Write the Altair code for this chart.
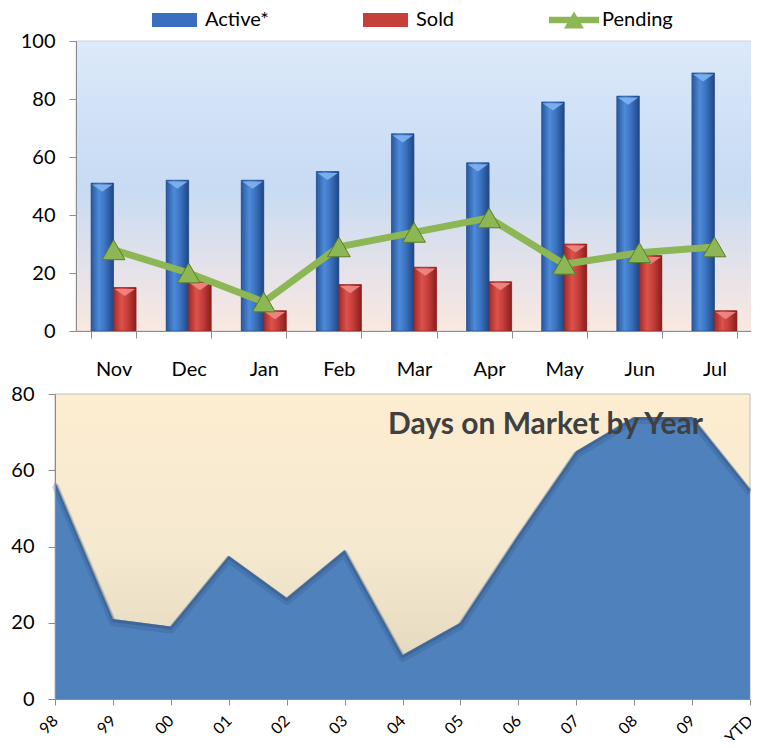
import altair as alt
import pandas as pd

# ---------------- data ----------------
months = ["Nov", "Dec", "Jan", "Feb", "Mar", "Apr", "May", "Jun", "Jul"]
active = [51, 52, 52, 55, 68, 58, 79, 81, 89]
sold = [15, 17, 7, 16, 22, 17, 30, 26, 7]
pending = [28, 20, 10, 29, 34, 39, 23, 27, 29]

years = ["98", "99", "00", "01", "02", "03", "04", "05", "06", "07", "08", "09", "YTD"]
days = [57, 21, 19, 37.5, 26.5, 39, 11.5, 20, 43, 65, 74, 74, 55]

series_names = ["Active*", "Sold", "Pending"]
series_colors = ["#3a6fc0", "#c63f3b", "#8db654"]

top_rows = []
for m, a, s, p in zip(months, active, sold, pending):
    top_rows.append({"month": m, "series": "Active*", "value": a})
    top_rows.append({"month": m, "series": "Sold", "value": s})
    top_rows.append({"month": m, "series": "Pending", "value": p})
top_df = pd.DataFrame(top_rows)
dom_df = pd.DataFrame({"year": years, "days": days})
one_df = pd.DataFrame({"k": [0]})

# ---------------- styling ----------------
W1, H1 = 676, 290
SHIFT = 21            # bottom plot starts this much further left than the top plot
W2, H2 = 695, 305
FONT = "Lato"
AXIS_GRAY = "#8c8c8c"


def grad(stops, horizontal=True):
    if horizontal:
        return alt.Gradient(gradient="linear", x1=0, x2=1, y1=0, y2=0,
                            stops=[alt.GradientStop(offset=o, color=c) for o, c in stops])
    return alt.Gradient(gradient="linear", x1=0, x2=0, y1=0, y2=1,
                        stops=[alt.GradientStop(offset=o, color=c) for o, c in stops])


x_top = alt.X("month:N",
              scale=alt.Scale(domain=months, paddingInner=0.4, paddingOuter=0.2),
              axis=alt.Axis(title=None, labelAngle=0, tickBand="extent", tickSize=7,
                            labelPadding=21, labelFontSize=20, labelFont=FONT,
                            labelColor="#000000", domainColor=AXIS_GRAY,
                            tickColor=AXIS_GRAY, zindex=1))
y_top = alt.Y("value:Q", scale=alt.Scale(domain=[0, 100], nice=False),
              axis=alt.Axis(title=None, values=[0, 20, 40, 60, 80, 100], grid=False,
                            tickSize=7, labelPadding=14, labelFontSize=20,
                            labelFont=FONT, labelColor="#000000",
                            domainColor=AXIS_GRAY, tickColor=AXIS_GRAY, minExtent=68,
                            zindex=1))
x_off = alt.XOffset("series:N",
                    scale=alt.Scale(domain=["Active*", "Sold"], paddingInner=0, paddingOuter=0))

BAR_PATH = "M-1,-0.7H3.5V0.7H-1Z"
PEND_PATH = "M-1,-0.33H4V0.33H-1Z M1.5,-0.85L2.5,0.85H0.5Z"

color_enc = alt.Color(
    "series:N",
    scale=alt.Scale(domain=series_names, range=series_colors),
    legend=alt.Legend(
        title=None, orient="none", legendX=76, legendY=-31,
        direction="horizontal", columns=3,
        symbolType={"expr": f"datum.value === 'Pending' ? '{PEND_PATH}' : '{BAR_PATH}'"},
        symbolSize=400, symbolStrokeWidth=0, symbolOpacity=1,
        labelFontSize=20, labelFont=FONT, labelColor="#000000",
        labelOffset=33, columnPadding=94,
    ),
)

bg_top = alt.Chart(one_df).mark_rect(
    fill=grad([(0, "#dce9fa"), (0.5, "#c7dbf3"), (0.82, "#e8e3e8"), (1, "#f9e9df")],
              horizontal=False),
    stroke="#d2d2d2", strokeWidth=1,
).encode(x=alt.value(0), x2=alt.value(W1), y=alt.value(0), y2=alt.value(H1))

bars_base = alt.Chart(top_df).transform_filter(
    "datum.series !== 'Pending'"
).mark_bar().encode(x=x_top, xOffset=x_off, y=y_top, color=color_enc)

active_grad = alt.Chart(top_df).transform_filter(
    "datum.series === 'Active*'"
).mark_bar(
    fill=grad([(0, "#2a569c"), (0.35, "#4d8bd8"), (0.6, "#3d75c4"), (1, "#1f4784")]),
    stroke="#24498a", strokeWidth=0.6,
).encode(x=x_top, xOffset=x_off, y=y_top)

sold_grad = alt.Chart(top_df).transform_filter(
    "datum.series === 'Sold'"
).mark_bar(
    fill=grad([(0, "#a32a27"), (0.35, "#dc524d"), (0.6, "#c8403b"), (1, "#8a1e1c")]),
    stroke="#8a2220", strokeWidth=0.6,
).encode(x=x_top, xOffset=x_off, y=y_top)

BEVEL = "M-1,-0.35L1,-0.35L0,0.35Z"
bevel_active = alt.Chart(top_df).transform_filter(
    "datum.series === 'Active*'"
).mark_point(shape=BEVEL, filled=True, size=420, fill="#7fb4f0", strokeWidth=0,
             opacity=0.9, yOffset=5).encode(x=x_top, xOffset=x_off, y=y_top)

bevel_sold = alt.Chart(top_df).transform_filter(
    "datum.series === 'Sold'"
).mark_point(shape=BEVEL, filled=True, size=420, fill="#f08a86", strokeWidth=0,
             opacity=0.9, yOffset=5).encode(x=x_top, xOffset=x_off, y=y_top)

pend_line = alt.Chart(top_df).transform_filter(
    "datum.series === 'Pending'"
).mark_line(color="#8db654", strokeWidth=7, strokeCap="round",
            strokeJoin="round").encode(x=x_top, y=y_top)

pend_pts = alt.Chart(top_df).transform_filter(
    "datum.series === 'Pending'"
).mark_point(shape="triangle-up", filled=True, size=520, stroke="#5c7d2b",
             strokeWidth=1, opacity=1).encode(x=x_top, y=y_top, color=color_enc)

top = alt.layer(bg_top, bars_base, active_grad, sold_grad, bevel_active, bevel_sold,
                pend_line, pend_pts).properties(width=W1, height=H1)

# ---------------- bottom chart ----------------
x_bot = alt.X("year:N",
              scale=alt.Scale(type="point", domain=years, padding=0,
                              range=[-SHIFT, W2 - SHIFT]),
              axis=alt.Axis(title=None, labelAngle=-45, labelAlign="right",
                            labelBaseline="middle", tickSize=6, labelPadding=13,
                            labelFontSize=16, labelFont=FONT, labelColor="#000000",
                            domainColor=AXIS_GRAY, tickColor=AXIS_GRAY, zindex=1))
y_bot = alt.Y("days:Q", scale=alt.Scale(domain=[0, 80], nice=False),
              axis=alt.Axis(title=None, values=[0, 20, 40, 60, 80], grid=False,
                            tickSize=7, labelPadding=14, labelFontSize=20,
                            labelFont=FONT, labelColor="#000000", offset=SHIFT,
                            domainColor=AXIS_GRAY, tickColor=AXIS_GRAY, zindex=1))

bg_bot = alt.Chart(one_df).mark_rect(
    fill=grad([(0, "#fdedd1"), (0.5, "#f5e9d0"), (0.85, "#e6dac1"), (1, "#e0d4bb")],
              horizontal=False),
    stroke="#bdbdbd", strokeWidth=1,
).encode(x=alt.value(-SHIFT), x2=alt.value(W2 - SHIFT), y=alt.value(0), y2=alt.value(H2))

area = alt.Chart(dom_df).mark_area(color="#4f81bd").encode(x=x_bot, y=y_bot)

shade_wide = alt.Chart(dom_df).mark_line(
    color="#2c4d78", strokeWidth=7, opacity=0.22, strokeJoin="round", yOffset=3.5
).encode(x=x_bot, y=y_bot)

shade_thin = alt.Chart(dom_df).mark_line(
    color="#2c4d78", strokeWidth=3, opacity=0.35, strokeJoin="round", yOffset=1.5
).encode(x=x_bot, y=y_bot)

title_txt = alt.Chart(one_df).mark_text(
    text="Days on Market by Year", align="left", baseline="alphabetic",
    fontSize=30, fontWeight="bold", font=FONT, color="#404040"
).encode(x=alt.value(333 - SHIFT), y=alt.value(40))

bottom = alt.layer(bg_bot, area, shade_wide, shade_thin, title_txt).properties(
    width=W2 - SHIFT, height=H2)

chart = alt.vconcat(top, bottom, spacing=5).properties(
    padding={"left": 0, "top": 2, "right": -20, "bottom": -7}
).configure(font=FONT).configure_view(strokeWidth=0)

chart.save("out.html", embed_options={"renderer": "svg", "actions": False})
